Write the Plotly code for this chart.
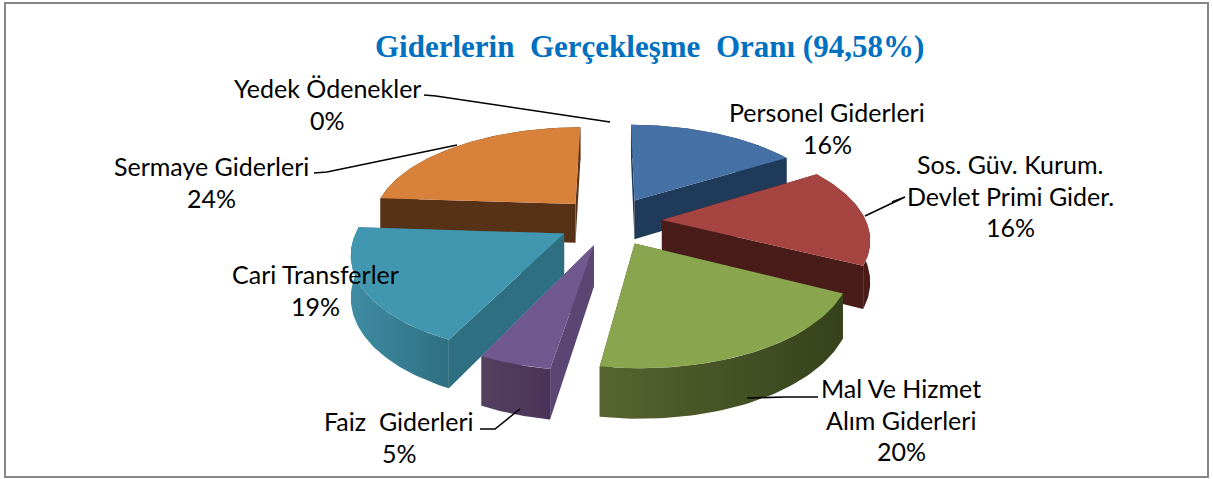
import math
import plotly.graph_objects as go

# ---- data ----
categories = ["Personel Giderleri", "Sos. Güv. Kurum. Devlet Primi Gider.", "Mal Ve Hizmet Alım Giderleri",
              "Faiz  Giderleri", "Cari Transferler", "Sermaye Giderleri", "Yedek Ödenekler"]
values = [16.2, 16.2, 20.1, 4.6, 18.9, 24.0, 0]
title_text = "Giderlerin\u00a0 Gerçekleşme\u00a0 Oranı (94,58%)"

top_colors = ["#4671A6", "#A64442", "#89A54E", "#71588F", "#4197AF", "#D8813B"]
wall_colors = ["#203A5A", "#4A1C19", "#3A451E", "#5B4673", "#2F6F82", "#573217"]
arc_scales = [
    ["#1F3A5A", "#203A5A"],
    ["#4A1C19", "#4A1C19"],
    ["#56652F", "#36421C"],
    ["#54405F", "#4A3358"],
    ["#3F8CA3", "#2F6F82"],
    ["#573217", "#573217"],
]

# ---- projection of the tilted, exploded disc ----
CX, CY = 610, 221
A, B = 204, 95
K = 0.17
EXPLODE = 0.255
DEPTH = 40


def project(px, py, lower=False):
    s = 1 / (1 - K * py)
    x = CX + A * px * s
    y = CY + B * py * s + (DEPTH * s if lower else 0)
    return x, y


total = sum(values)
fig = go.Figure()
draw_order = [0, 5, 1, 4, 2, 3]
bounds = []
acc = 0
for v in values:
    bounds.append((acc, acc + v))
    acc += v


def poly(pts, color=None, scale=None):
    xs = [p[0] for p in pts] + [pts[0][0]]
    ys = [p[1] for p in pts] + [pts[0][1]]
    kw = dict(fillcolor=color)
    if scale:
        kw = dict(fillgradient=dict(type="horizontal",
                                    colorscale=[[0, scale[0]], [1, scale[1]]]))
    fig.add_trace(go.Scatter(x=xs, y=ys, mode="lines", fill="toself", line=dict(width=0),
                             hoverinfo="skip", showlegend=False, **kw))


for i in draw_order:
    a0 = bounds[i][0] / total * 2 * math.pi
    a1 = bounds[i][1] / total * 2 * math.pi
    mid = (a0 + a1) / 2
    ox, oy = EXPLODE * math.sin(mid), -EXPLODE * math.cos(mid)
    n = 60
    arc = [(ox + math.sin(a0 + (a1 - a0) * j / n), oy - math.cos(a0 + (a1 - a0) * j / n))
           for j in range(n + 1)]
    top = [project(*p) for p in arc]
    low = [project(*p, lower=True) for p in arc]
    # radial walls
    apex_t, apex_l = project(ox, oy), project(ox, oy, lower=True)
    poly([apex_t, top[0], low[0], apex_l], wall_colors[i])
    poly([apex_t, top[-1], low[-1], apex_l], wall_colors[i])
    # outer wall
    poly(top + low[::-1], scale=arc_scales[i])
    # top face
    poly([apex_t] + top, top_colors[i])

# ---- leader lines ----
leaders = [
    [(424, 95), (436, 96), (610, 122)],
    [(314, 173), (327, 172), (457, 145)],
    [(892, 202), (905, 197), (865, 216)][::-1],
    [(818, 397), (785, 397), (747, 398)],
    [(480, 429), (495, 429), (520, 409)],
]
for L in leaders:
    fig.add_trace(go.Scatter(x=[p[0] for p in L], y=[p[1] for p in L], mode="lines",
                             line=dict(color="#000000", width=1.6), hoverinfo="skip", showlegend=False))

# ---- labels ----
label_lines = {
    0: ((827, 112), ["Personel Giderleri"]),
    1: ((1010, 164), ["Sos. Güv. Kurum.", "Devlet Primi Gider."]),
    2: ((901, 388), ["Mal Ve Hizmet", "Alım Giderleri"]),
    3: ((399, 421), ["Faiz  Giderleri"]),
    4: ((315, 274), ["Cari Transferler"]),
    5: ((211, 166), ["Sermaye Giderleri"]),
    6: ((327, 88), ["Yedek Ödenekler"]),
}
anns = []
for i, ((x, y), lines) in label_lines.items():
    rows = lines + [f"{round(values[i])}%"]
    for r, t in enumerate(rows):
        anns.append(dict(x=x, y=y + r * 31.7, text=t.replace("  ", "\u00a0 "), showarrow=False, xref="x", yref="y",
                         xanchor="center", yanchor="middle",
                         font=dict(family="Lato", size=25, color="#000000")))
anns.append(dict(x=649, y=46, text=title_text, showarrow=False, xref="x", yref="y",
                 xanchor="center", yanchor="middle",
                 font=dict(family="Liberation Serif", size=31, color="#0070C0", weight="bold")))

fig.update_layout(
    width=1213, height=479, autosize=False,
    margin=dict(l=0, r=0, t=0, b=0),
    paper_bgcolor="#FFFFFF", plot_bgcolor="#FFFFFF",
    xaxis=dict(range=[0, 1213], visible=False, fixedrange=True),
    yaxis=dict(range=[479, 0], visible=False, fixedrange=True),
    annotations=anns,
    shapes=[dict(type="rect", xref="x", yref="y", x0=5, y0=3, x1=1208, y1=477,
                 line=dict(color="#868686", width=2), layer="below")],
    showlegend=False,
)
fig.write_html("out.html", config={"displayModeBar": False},
               post_script="document.body.style.margin='0';document.body.style.overflow='hidden';")
